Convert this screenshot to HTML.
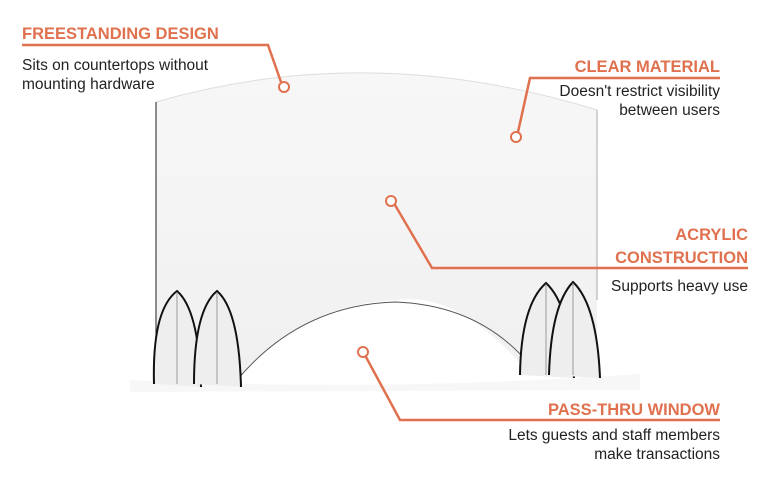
<!DOCTYPE html>
<html><head><style>
body{margin:0;width:770px;height:492px;background:#fff;overflow:hidden;font-family:"Liberation Sans",sans-serif}
.t{position:absolute;color:#e0714f;font-weight:bold;font-size:16.5px;white-space:nowrap}
.b{position:absolute;color:#222;font-size:15.5px;line-height:19px;white-space:nowrap}
.r{text-align:right}
</style></head><body>
<svg width="770" height="492" style="position:absolute;left:0;top:0">
<defs><linearGradient id="g" x1="0" y1="0" x2="0" y2="1"><stop offset="0" stop-color="#f7f7f7"/><stop offset="1" stop-color="#f0f0f0"/></linearGradient></defs>
<path d="M156,102 Q370,40 597,110 L597,375 L530,375 Q460,290 395,300 Q300,305 237,380 L156,380 Z" fill="url(#g)"/>
<path d="M156,102 Q370,40 597,110" fill="none" stroke="#ddd" stroke-width="1"/>
<line x1="156" y1="102" x2="156" y2="380" stroke="#444" stroke-width="1.2"/>
<line x1="597" y1="110" x2="597" y2="300" stroke="#aaa" stroke-width="1"/>
<path d="M237,380 Q300,305 395,302 Q480,305 530,365" fill="none" stroke="#555" stroke-width="1"/>
<path d="M130,380 Q380,392 640,374 L640,390 L130,392 Z" fill="#f7f7f7"/>
<g fill="#eee" stroke="#111" stroke-width="2">
<path d="M154,384 Q152,310 177,291 Q199,310 201,387"/>
<path d="M194,384 Q194,310 217,291 Q239,310 241,387"/>
<path d="M520,375 Q521,305 546,283 Q570,305 574,378"/>
<path d="M549,375 Q551,305 573,282 Q597,305 600,378"/>
</g>
<g stroke="#999" stroke-width="1"><line x1="177" y1="292" x2="177" y2="384"/><line x1="217" y1="292" x2="217" y2="384"/><line x1="546" y1="284" x2="546" y2="375"/><line x1="573" y1="283" x2="573" y2="375"/></g>
<g fill="none" stroke="#e0714f" stroke-width="2.5">
<polyline points="22,45 268,45 281,82"/>
<polyline points="720,78 530,78 518,132"/>
<polyline points="748,268 432,268 395,205"/>
<polyline points="720,420 400,420 366,357"/>
</g>
<g fill="#fff" stroke="#e0714f" stroke-width="2">
<circle cx="284" cy="87" r="5"/><circle cx="516" cy="137" r="5"/><circle cx="391" cy="201" r="5"/><circle cx="363" cy="352" r="5"/>
</g>
</svg>
<div class="t" style="left:22px;top:25px">FREESTANDING DESIGN</div>
<div class="b" style="left:22px;top:56px">Sits on countertops without<br>mounting hardware</div>
<div class="t r" style="right:50px;top:58px">CLEAR MATERIAL</div>
<div class="b r" style="right:50px;top:82px">Doesn't restrict visibility<br>between users</div>
<div class="t r" style="right:22px;top:224px;line-height:23px">ACRYLIC<br>CONSTRUCTION</div>
<div class="b r" style="right:22px;top:277px">Supports heavy use</div>
<div class="t r" style="right:50px;top:401px">PASS-THRU WINDOW</div>
<div class="b r" style="right:50px;top:426px">Lets guests and staff members<br>make transactions</div>
</body></html>
